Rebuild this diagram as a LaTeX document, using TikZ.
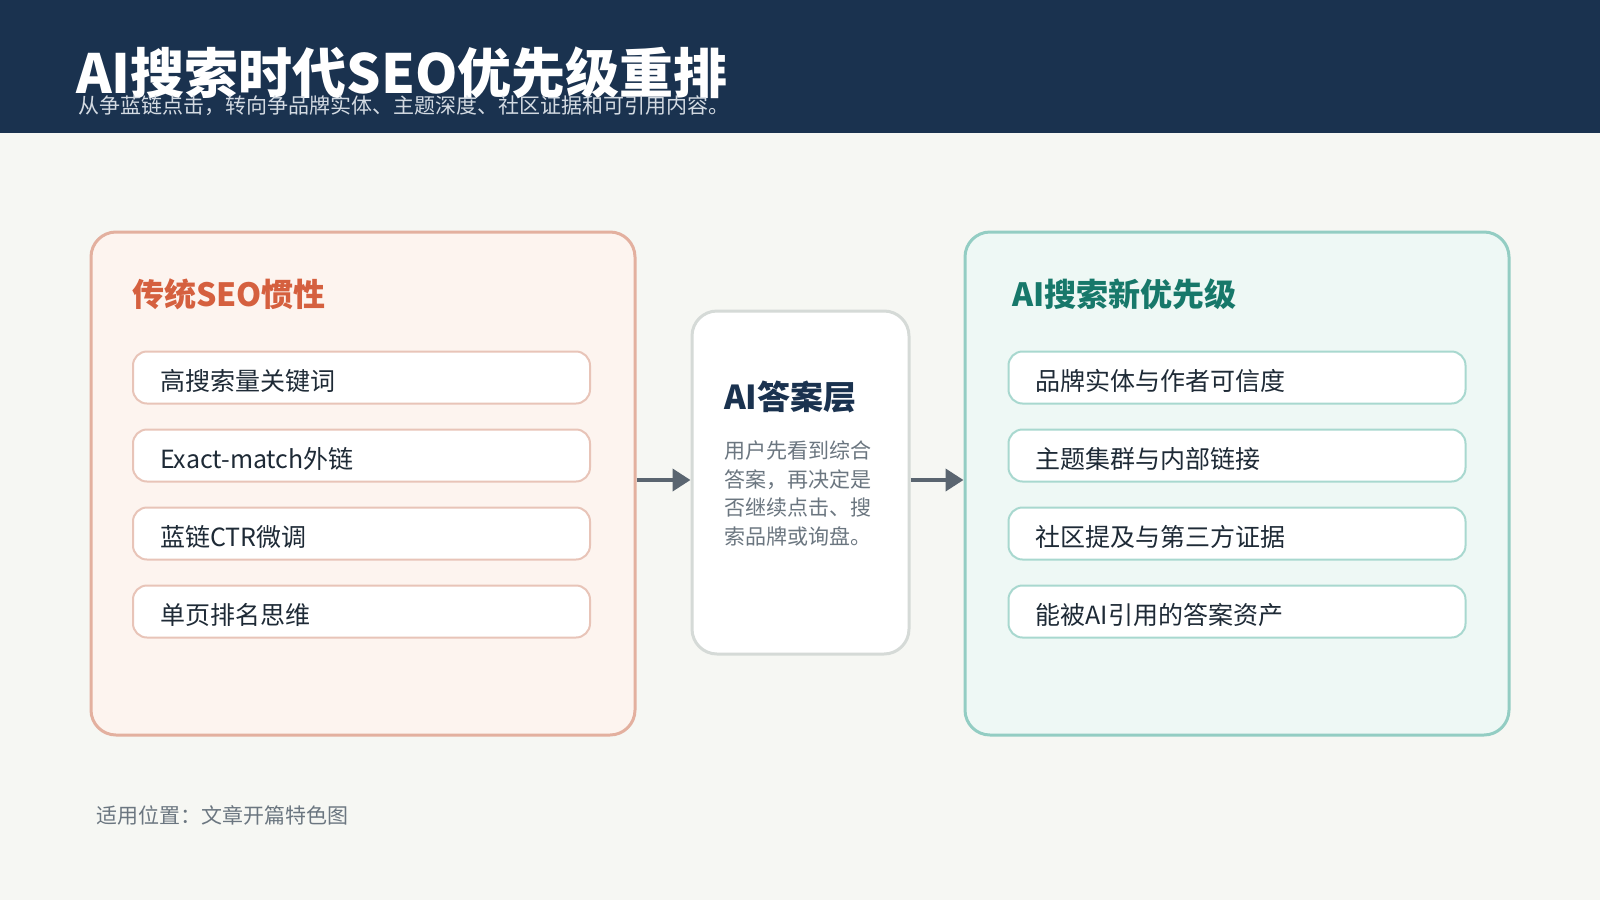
\documentclass[tikz,border=0pt]{standalone}
\usepackage{fontspec}
\setmainfont{Noto Sans CJK SC}
\usepackage{tikz}
\usetikzlibrary{arrows.meta,positioning,calc}
\definecolor{headbg}{HTML}{1A324F}
\definecolor{pagebg}{HTML}{F6F7F3}
\definecolor{oldfill}{HTML}{FDF4EF}
\definecolor{oldline}{HTML}{E3B09F}
\definecolor{olditem}{HTML}{E8C4B8}
\definecolor{oldtitle}{HTML}{D5603F}
\definecolor{newfill}{HTML}{EEF8F5}
\definecolor{newline}{HTML}{93CDC3}
\definecolor{newitem}{HTML}{A8D8CF}
\definecolor{newtitle}{HTML}{17786A}
\definecolor{inktext}{HTML}{1E2A36}
\definecolor{softtext}{HTML}{6B7680}
\definecolor{arrowink}{HTML}{5A6570}
\definecolor{midline}{HTML}{D5DAD7}
\definecolor{subtext}{HTML}{D3DAE2}

\begin{document}
\begin{tikzpicture}[x=1pt,y=-1pt,line join=round,
    panel/.style={draw,line width=3pt,rounded corners=25pt,minimum width=544pt,minimum height=503pt},
    itembox/.style={draw,line width=2pt,fill=white,rounded corners=14pt,minimum height=52pt,
      text width=403pt,align=left,inner xsep=27pt,inner ysep=0pt,text=inktext,
      text height=25pt,text depth=0pt,font=\fontsize{25}{28}\selectfont},
    flow/.style={line width=4pt,arrowink,-{Triangle[length=18pt,width=22pt]}}]
      \fill[pagebg] (0,0) rectangle (1600,900);
      \fill[headbg] (0,0) rectangle (1600,133);
      \node[anchor=west,inner sep=0pt,text=white,font=\fontsize{54}{58}\bfseries\selectfont] (title) at (76,73) {AI搜索时代SEO优先级重排};
      \node[anchor=west,inner sep=0pt,text=subtext,font=\fontsize{21}{24}\selectfont] (subtitle) at (78,106) {从争蓝链点击，转向争品牌实体、主题深度、社区证据和可引用内容。};

      \node[panel,draw=oldline,fill=oldfill] (old) at (363,483.5) {};
      \node[panel,draw=newline,fill=newfill] (new) at (1237,483.5) {};
      \node[draw=midline,line width=3pt,fill=white,rounded corners=25pt,minimum width=217pt,minimum height=343pt] (mid) at (800.5,482.5) {};

      \node[anchor=west,inner sep=0pt,text=oldtitle,font=\fontsize{32}{36}\bfseries\selectfont] (oldhead) at (132,294) {传统SEO惯性};
      \node[itembox,draw=olditem] (l1) at (361.5,377.5) {高搜索量关键词};
      \node[itembox,draw=olditem] (l2) at (361.5,455.5) {Exact-match外链};
      \node[itembox,draw=olditem] (l3) at (361.5,533.5) {蓝链CTR微调};
      \node[itembox,draw=olditem] (l4) at (361.5,611.5) {单页排名思维};

      \node[anchor=west,inner sep=0pt,text=newtitle,font=\fontsize{32}{36}\bfseries\selectfont] (newhead) at (1012,294) {AI搜索新优先级};
      \node[itembox,draw=newitem] (r1) at (1237,377.5) {品牌实体与作者可信度};
      \node[itembox,draw=newitem] (r2) at (1237,455.5) {主题集群与内部链接};
      \node[itembox,draw=newitem] (r3) at (1237,533.5) {社区提及与第三方证据};
      \node[itembox,draw=newitem] (r4) at (1237,611.5) {能被AI引用的答案资产};

      \node[anchor=west,inner sep=0pt,text=headbg,font=\fontsize{33}{36}\bfseries\selectfont] (midhead) at (724,397) {AI答案层};
      \node[anchor=north west,inner sep=0pt,text=softtext,align=left,font=\fontsize{21}{28.5}\selectfont] (midbody) at (724,441) {用户先看到综合\\答案，再决定是\\否继续点击、搜\\索品牌或询盘。};

      \draw[flow] (old.east |- 0,480) -- (mid.west |- 0,480);
      \draw[flow] (mid.east |- 0,480) -- (new.west |- 0,480);

      \node[anchor=west,inner sep=0pt,text=softtext,font=\fontsize{21}{24}\selectfont] (usage) at (96,815) {适用位置：文章开篇特色图};
    \end{tikzpicture}
\end{document}
